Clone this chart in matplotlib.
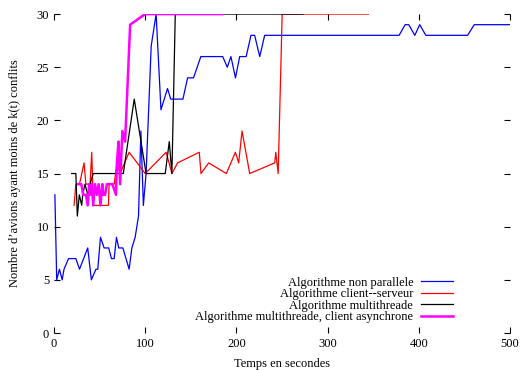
import matplotlib
matplotlib.use("Agg")
import matplotlib.pyplot as plt

# === Data ===
blue_x = [1, 3, 6, 9, 11, 16, 24, 28, 37, 41, 46, 48, 51, 55, 60, 63, 66, 68.5, 71, 75.5,
          82.4, 85.4, 89, 92.7, 95.3, 98, 101, 106.6, 112, 117.3, 124.5, 128, 141.4, 146.5,
          153, 161, 185, 190, 194, 199, 203.6, 210.7, 216, 220, 225.6, 231, 378.4, 385, 389,
          395.6, 401, 407.7, 453.5, 460.8, 500]
blue_y = [13, 5, 6, 5, 6, 7, 7, 6, 8, 5, 6, 6, 9, 8, 8, 7, 7, 9, 8, 8,
          6, 8, 9, 11, 19, 12, 15, 27, 30, 21, 23, 22, 22, 24,
          24, 26, 26, 25, 26, 24, 26, 26, 28, 28, 26, 28, 28, 29, 29,
          28, 29, 28, 28, 29, 29]

red_x = [22, 24, 28, 33, 35, 39.6, 41.4, 43.2, 59.7, 60.4, 66, 69, 72.5, 82.4, 100, 123,
         129.3, 135.5, 159.3, 161.2, 169.6, 189, 198.9, 202.5, 206.2, 214.6, 242, 243.2,
         245.8, 250.2, 344.7]
red_y = [12, 14, 14, 16, 14, 14, 17, 12, 12, 14, 14, 16, 15, 17, 15, 17,
         15, 16, 17, 15, 16, 15, 17, 16, 19, 15, 16, 17,
         15, 30, 30]

black_x = [19.4, 24, 25.6, 27.8, 30.4, 31.5, 34, 37, 39.6, 43, 76, 88, 101, 122, 126.4,
           129.3, 133, 273]
black_y = [15, 15, 11, 13, 12, 13, 14, 13, 14, 15, 15, 22, 15, 15, 18, 15, 30, 30]

mag_x = [27, 30, 32, 35, 37, 38.5, 40, 41.5, 43, 45, 47, 49, 51, 53, 54, 56, 58, 60, 64,
         68, 69, 70.7, 72.5, 75, 78, 83.5, 100, 185]
mag_y = [14, 14, 13, 13, 12, 14, 13, 14, 12, 14, 13, 14, 12, 14, 13, 13, 14, 14, 14,
         13, 16, 18, 14, 19, 18, 29, 30, 30]

labels = ["Algorithme non parallele", "Algorithme client--serveur",
          "Algorithme multithreade", "Algorithme multithreade, client asynchrone"]

plt.rcParams["font.family"] = ["Liberation Serif", "DejaVu Serif"]

fig = plt.figure(figsize=(5.21, 3.70), dpi=100)
ax = fig.add_axes([0.1036, 0.1, 0.8753, 0.862])

ax.plot(blue_x, blue_y, color="#0000ff", lw=0.9, label=labels[0])
ax.plot(red_x, red_y, color="#ff0000", lw=0.9, label=labels[1])
ax.plot(black_x, black_y, color="black", lw=0.9, label=labels[2])
ax.plot(mag_x, mag_y, color="#ff00ff", lw=1.8, label=labels[3])

ax.set_xlim(0, 500)
ax.set_ylim(0, 30)
ax.set_xticks(range(0, 501, 100))
ax.set_yticks(range(0, 31, 5))
ax.tick_params(direction="in", top=True, right=True, labelsize=9, length=4, width=0.8)
for s in ax.spines.values():
    s.set_visible(False)

ax.set_xlabel("Temps en secondes", fontsize=9, labelpad=6)
ax.set_ylabel("Nombre d’avions ayant moins de k(t) conflits", fontsize=9, labelpad=11)

ax.legend(loc="lower right", bbox_to_anchor=(0.889, 0.012), frameon=False,
          markerfirst=False, fontsize=9, handlelength=2.6, labelspacing=-0.05,
          handletextpad=0.6, borderpad=0)

fig.savefig("out.png", dpi=100)
